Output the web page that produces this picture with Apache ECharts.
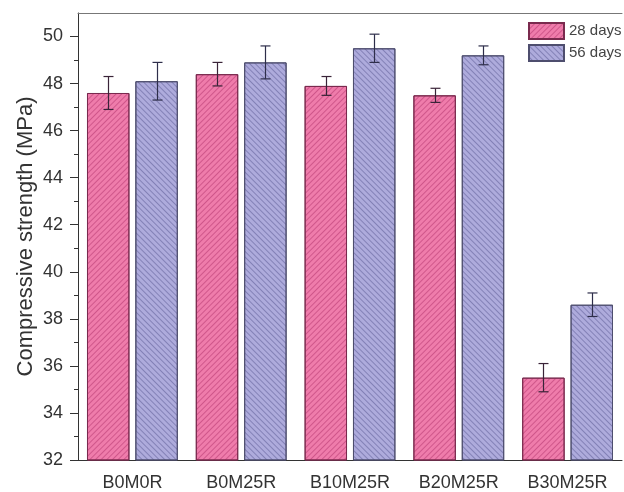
<!DOCTYPE html>
<html><head><meta charset="utf-8">
<script src="https://cdn.jsdelivr.net/npm/echarts@6/dist/echarts.min.js"></script>
<style>html,body{margin:0;padding:0;background:#fff}#c{width:624px;height:492px}</style>
</head><body><div id="c"></div>
<script>
const categories = ['B0M0R', 'B0M25R', 'B10M25R', 'B20M25R', 'B30M25R'];
const seriesNames = ['28 days', '56 days'];
const days28 = [47.6, 48.4, 47.9, 47.5, 35.5];
const days28Err = [0.7, 0.5, 0.4, 0.3, 0.6];
const days56 = [48.1, 48.9, 49.5, 49.2, 38.6];
const days56Err = [0.8, 0.7, 0.6, 0.4, 0.5];
const yMajorTicks = [32, 34, 36, 38, 40, 42, 44, 46, 48, 50];
const yMinorTicks = [33, 35, 37, 39, 41, 43, 45, 47, 49];

const BAR_W = 0.39, BAR_GAP = 0.14;
const FONT = 'Liberation Sans, Arial, sans-serif';

function errSeries(name, values, errs, sign, color) {
  return {
    type: 'custom', name: name + ' err', xAxisIndex: 0, yAxisIndex: 0, z: 10, silent: true,
    data: values.map((v, i) => [i, v - errs[i], v + errs[i]]),
    encode: { x: 0, y: [1, 2] },
    renderItem: function (params, api) {
      const i = api.value(0);
      const lo = api.coord([i, api.value(1)]);
      const hi = api.coord([i, api.value(2)]);
      const band = api.size([1, 0])[0];
      const w = band * BAR_W;
      const x = Math.round(lo[0] + sign * (w + w * BAR_GAP) / 2) + 0.5;
      const cap = 5;
      const style = { stroke: color, lineWidth: 1.2 };
      return { type: 'group', children: [
        { type: 'line', shape: { x1: x, y1: lo[1], x2: x, y2: hi[1] }, style: style },
        { type: 'line', shape: { x1: x - cap, y1: hi[1], x2: x + cap, y2: hi[1] }, style: style },
        { type: 'line', shape: { x1: x - cap, y1: lo[1], x2: x + cap, y2: lo[1] }, style: style }
      ] };
    }
  };
}

const chart = echarts.init(document.getElementById('c'), null, { renderer: 'canvas' });
chart.setOption({
  animation: false,
  backgroundColor: '#fff',
  aria: { enabled: true, decal: { show: true } },
  textStyle: { fontFamily: FONT },
  grid: { left: 78, right: 2, top: 13, bottom: 30, containLabel: false },
  legend: {
    data: seriesNames, orient: 'vertical', left: 528, top: 22, padding: 0,
    icon: 'rect', itemWidth: 35, itemHeight: 16, itemGap: 4,
    textStyle: { fontSize: 15, color: '#444', fontFamily: FONT }
  },
  xAxis: [
    {
      type: 'category', data: categories, position: 'bottom',
      axisLine: { lineStyle: { color: '#333', width: 1 } },
      axisTick: { alignWithLabel: true, length: 4, lineStyle: { color: '#333' } },
      axisLabel: { fontSize: 18, color: '#333', margin: 14, fontFamily: FONT }
    },
    {
      type: 'category', data: categories, position: 'bottom',
      axisLine: { show: false },
      axisTick: { length: 3, lineStyle: { color: '#333' } },
      axisLabel: { show: false }
    },
    {
      type: 'category', data: categories, position: 'top',
      axisLine: { lineStyle: { color: '#777', width: 1 } },
      axisTick: { show: false }, axisLabel: { show: false }
    }
  ],
  yAxis: [
    {
      type: 'value', min: 32, max: 51, position: 'left',
      name: 'Compressive strength (MPa)', nameLocation: 'middle', nameGap: 41, nameMoveOverlap: false,
      nameTextStyle: { fontSize: 22, color: '#333', fontFamily: FONT },
      axisLine: { show: true, lineStyle: { color: '#333', width: 1 } },
      axisTick: { show: true, length: 8, customValues: yMajorTicks, lineStyle: { color: '#333' } },
      axisLabel: { fontSize: 18, color: '#333', margin: 15, customValues: yMajorTicks, fontFamily: FONT },
      splitLine: { show: false }
    },
    {
      type: 'value', min: 32, max: 51, position: 'left',
      axisLine: { show: false },
      axisTick: { show: true, length: 4, customValues: yMinorTicks, lineStyle: { color: '#333' } },
      axisLabel: { show: false },
      splitLine: { show: false }
    }
  ],
  series: [
    {
      type: 'bar', name: seriesNames[0], data: days28, xAxisIndex: 0, yAxisIndex: 0,
      barWidth: (BAR_W * 100) + '%', barGap: (BAR_GAP * 100) + '%',
      itemStyle: {
        color: '#ef7cab', borderColor: '#7a2a4e', borderWidth: 1,
        decal: { symbol: 'rect', symbolSize: 1, color: 'rgba(160,30,90,0.4)', dashArrayX: [1, 0], dashArrayY: [1, 3], rotation: -Math.PI / 4 }
      }
    },
    {
      type: 'bar', name: seriesNames[1], data: days56, xAxisIndex: 0, yAxisIndex: 0,
      barWidth: (BAR_W * 100) + '%', barGap: (BAR_GAP * 100) + '%',
      itemStyle: {
        color: '#aeabdc', borderColor: '#4e4e6e', borderWidth: 1,
        decal: { symbol: 'rect', symbolSize: 1, color: 'rgba(60,60,120,0.38)', dashArrayX: [1, 0], dashArrayY: [1, 3], rotation: Math.PI / 4 }
      }
    },
    errSeries(seriesNames[0], days28, days28Err, -1, '#3a2438'),
    errSeries(seriesNames[1], days56, days56Err, 1, '#2e2e4a')
  ]
});
</script>
</body></html>
